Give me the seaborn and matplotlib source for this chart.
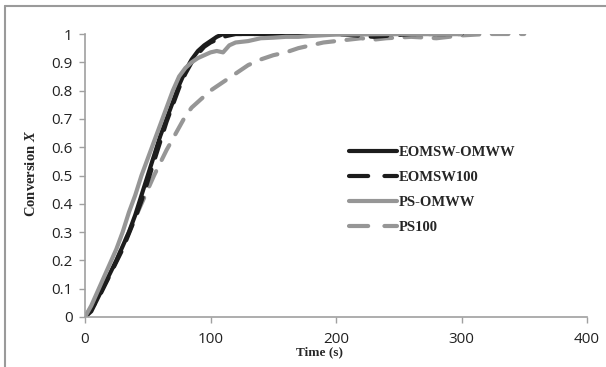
import numpy as np
import pandas as pd
import matplotlib
matplotlib.use("Agg")
import matplotlib.pyplot as plt
import seaborn as sns
from matplotlib.lines import Line2D

# ---- data ----
series_names = ["EOMSW-OMWW", "EOMSW100", "PS-OMWW", "PS100"]

t_eomsw_omww = [0, 5, 10, 15, 20, 25, 30, 35, 40, 45, 50, 55, 60, 65, 70, 75, 80, 85, 90, 95, 100, 105, 110, 120, 150, 200, 250, 300]
x_eomsw_omww = [0, 0.02, 0.065, 0.11, 0.155, 0.20, 0.25, 0.30, 0.36, 0.43, 0.50, 0.57, 0.64, 0.70, 0.76, 0.82, 0.87, 0.91, 0.94, 0.96, 0.975, 0.99, 1.0, 1.0, 1.0, 1.0, 1.0, 1.0]

t_eomsw100 = [0, 10, 20, 30, 40, 45, 50, 55, 60, 65, 70, 75, 80, 85, 90, 95, 100, 110, 120, 150, 200, 230, 260, 300]
x_eomsw100 = [0, 0.06, 0.15, 0.24, 0.35, 0.41, 0.48, 0.55, 0.62, 0.69, 0.75, 0.81, 0.86, 0.90, 0.93, 0.955, 0.97, 0.99, 1.0, 1.0, 1.0, 0.99, 1.0, 1.0]

t_ps_omww = [0, 5, 10, 15, 20, 25, 30, 35, 40, 45, 50, 55, 60, 65, 70, 75, 80, 85, 90, 95, 100, 105, 110, 115, 120, 130, 140, 150, 160, 170, 180, 200, 250, 300]
x_ps_omww = [0, 0.04, 0.09, 0.14, 0.19, 0.24, 0.30, 0.37, 0.43, 0.50, 0.56, 0.62, 0.68, 0.74, 0.80, 0.85, 0.88, 0.90, 0.915, 0.925, 0.935, 0.94, 0.935, 0.96, 0.97, 0.975, 0.985, 0.987, 0.99, 0.99, 0.993, 0.998, 1.0, 1.0]

t_ps100 = [0, 10, 20, 30, 40, 50, 55, 60, 65, 70, 75, 80, 85, 90, 95, 100, 110, 120, 130, 140, 150, 160, 170, 180, 190, 200, 210, 220, 230, 240, 260, 280, 300, 320, 350]
x_ps100 = [0, 0.07, 0.15, 0.25, 0.35, 0.45, 0.50, 0.545, 0.59, 0.63, 0.67, 0.71, 0.74, 0.76, 0.78, 0.80, 0.83, 0.86, 0.89, 0.91, 0.925, 0.935, 0.95, 0.96, 0.97, 0.975, 0.98, 0.985, 0.98, 0.985, 0.99, 0.985, 0.995, 1.0, 1.0]

x_ticks = [0, 100, 200, 300, 400]
y_ticks = [0, 0.1, 0.2, 0.3, 0.4, 0.5, 0.6, 0.7, 0.8, 0.9, 1.0]
y_tick_labels = ["0", "0.1", "0.2", "0.3", "0.4", "0.5", "0.6", "0.7", "0.8", "0.9", "1"]

frames = []
for name, t, x in [(series_names[0], t_eomsw_omww, x_eomsw_omww),
                   (series_names[1], t_eomsw100, x_eomsw100),
                   (series_names[2], t_ps_omww, x_ps_omww),
                   (series_names[3], t_ps100, x_ps100)]:
    frames.append(pd.DataFrame({"Time": t, "X": x, "Series": name}))
df = pd.concat(frames, ignore_index=True)

# ---- styling ----
sns.set_theme(style="white")
plt.rcParams["font.family"] = ["Open Sans", "DejaVu Sans"]
plt.rcParams["mathtext.fontset"] = "custom"
plt.rcParams["mathtext.it"] = "Liberation Serif:italic:bold"
plt.rcParams["mathtext.rm"] = "Liberation Serif:bold"

BLACK = "#1c1c1c"
GREY = "#969696"
palette = {"EOMSW-OMWW": BLACK, "EOMSW100": BLACK, "PS-OMWW": GREY, "PS100": GREY}
dashes = {"EOMSW-OMWW": "", "EOMSW100": (4, 3), "PS-OMWW": "", "PS100": (4, 3)}

fig = plt.figure(figsize=(6.06, 3.67), dpi=100)
ax = fig.add_axes([85 / 606, 1 - 317 / 367, (587 - 85) / 606, (317 - 34) / 367])

draw_order = ["PS100", "EOMSW100", "EOMSW-OMWW", "PS-OMWW"]
for name in draw_order:
    sub = df[df["Series"] == name]
    sns.lineplot(data=sub, x="Time", y="X", ax=ax, color=palette[name],
                 linewidth=3.0, label=name, sort=False, estimator=None,
                 dashes=False)
    line = ax.lines[-1]
    if dashes[name]:
        line.set_dashes(dashes[name])
    line.set_dash_capstyle("round")
    line.set_solid_capstyle("round")

ax.set_xlim(0, 400)
ax.set_ylim(0, 1.0)
ax.set_xticks(x_ticks)
ax.set_xticklabels([str(v) for v in x_ticks])
ax.set_yticks(y_ticks)
ax.set_yticklabels(y_tick_labels)
ax.tick_params(axis="both", which="major", direction="out", length=4, width=1,
               color="#a0a0a0", labelsize=11, labelcolor="#222222", pad=5, left=True, bottom=True)
ax.tick_params(axis="x", pad=7)

for s in ["top", "right"]:
    ax.spines[s].set_visible(False)
for s in ["left", "bottom"]:
    ax.spines[s].set_color("#a0a0a0")
    ax.spines[s].set_linewidth(1.2)

ax.set_xlabel("Time (s)", family="Liberation Serif", fontweight="bold", fontsize=9.5, labelpad=0)
ax.xaxis.set_label_coords((319 - 85) / (587 - 85), -(352 - 317) / (317 - 34), transform=ax.transAxes)
ax.xaxis.label.set_va("center")
ax.set_ylabel("Conversion $X$", family="Liberation Serif", fontweight="bold", fontsize=10.5)
ax.yaxis.set_label_coords(-(85 - 31) / (587 - 85), (317 - 173) / (317 - 34), transform=ax.transAxes)
ax.yaxis.label.set_va("center")

# legend with proper order
leg_handles = []
for name in series_names:
    h = Line2D([0], [0], color=palette[name], linewidth=3.0, solid_capstyle="round",
               dash_capstyle="round")
    if dashes[name]:
        h.set_dashes((4.6, 3.9))
    leg_handles.append(h)
leg = ax.legend(leg_handles, series_names, loc="upper left",
                bbox_to_anchor=(343 / 606, 1 - 140 / 367), bbox_transform=fig.transFigure,
                frameon=False, handlelength=3.3, handletextpad=0.1, labelspacing=0.8,
                borderaxespad=0, borderpad=0.4,
                prop={"family": "Liberation Serif", "weight": "bold", "size": 10.5})

# outer frame (top and left edges)
fig.add_artist(Line2D([5 / 606, 1.0], [1 - 6 / 367, 1 - 6 / 367], transform=fig.transFigure,
                      color="#9a9a9a", linewidth=1.5))
fig.add_artist(Line2D([5 / 606, 5 / 606], [0, 1 - 6 / 367], transform=fig.transFigure,
                      color="#9a9a9a", linewidth=1.5))

fig.savefig("out.png", dpi=100)
